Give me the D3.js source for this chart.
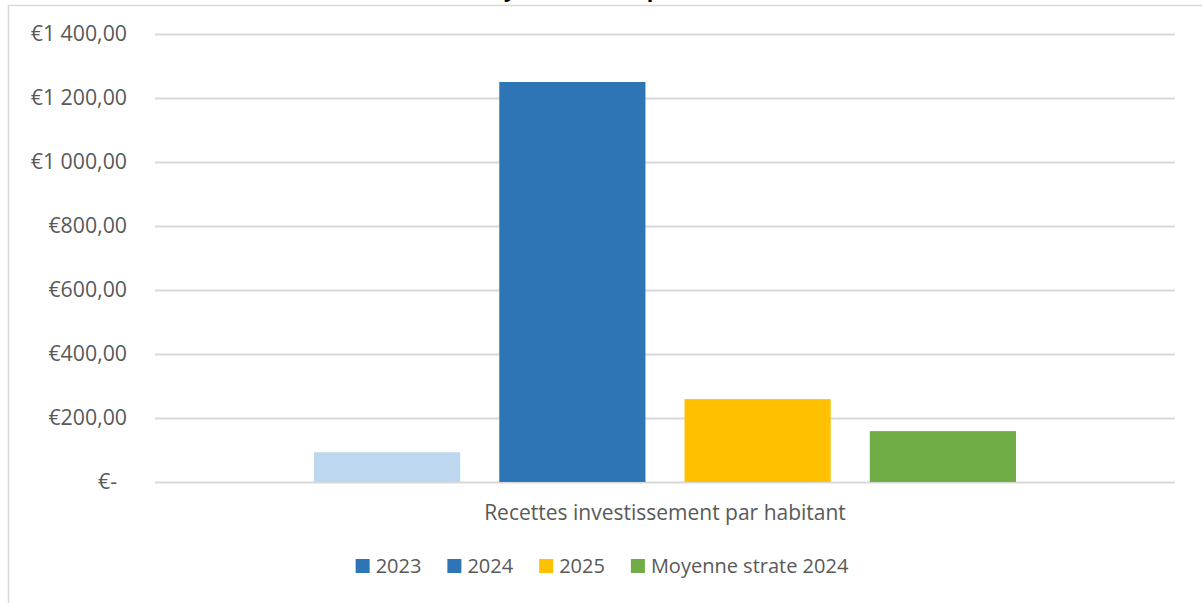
<!DOCTYPE html>
<html>
<head>
<meta charset="utf-8">
<script src="https://cdn.jsdelivr.net/npm/d3@7"></script>
<style>
  html, body { margin: 0; padding: 0; background: #fff; }
  svg { display: block; font-family: "Open Sans", "Liberation Sans", sans-serif; }
</style>
</head>
<body>
<svg id="chart" width="1202" height="603"></svg>
<script>
// Category, series and tick data
const categories = ["Recettes investissement par habitant"];
const seriesNames = ["2023", "2024", "2025", "Moyenne strate 2024"];
const seriesValues = [93, 1250, 259, 159];
const yTickValues = [0, 200, 400, 600, 800, 1000, 1200, 1400];
const titleText = "Recettes investissement : moyenne strate par habitant";

// Bar fills and legend swatch fills
const barFill = ["#BDD7EE", "#2E75B6", "#FFC000", "#70AD47"];
const swatchFill = ["#2E75B6", "#2E75B6", "#FFC000", "#70AD47"];

const svg = d3.select("#chart");
const W = 1202, H = 603;
const plot = { left: 155, right: 1175, top: 34, bottom: 482 };
const textColor = "#595959";
const gridColor = "#D9D9D9";

// Outer frame of the chart area
svg.append("rect")
  .attr("x", 8.5).attr("y", 5.5)
  .attr("width", W + 20).attr("height", H + 20)
  .attr("fill", "none").attr("stroke", gridColor).attr("stroke-width", 1.5);

// Title (sits above the frame, mostly outside the visible area)
const title = svg.append("text")
  .attr("x", 0).attr("y", -3)
  .attr("font-weight", "bold")
  .attr("font-size", 19)
  .attr("fill", "#000")
  .text(titleText);
{
  const node = title.node();
  const iy = titleText.indexOf("y");
  const ip = titleText.indexOf(" par") + 1;
  const ey = node.getExtentOfChar(iy);
  const ep = node.getExtentOfChar(ip);
  const yc = ey.x + ey.width * 0.4;
  const pc = ep.x + ep.width * 0.15;
  const fs = 19 * 140 / (pc - yc);
  title.attr("font-size", fs);
  const ey2 = node.getExtentOfChar(iy);
  title.attr("x", 509 - (ey2.x + ey2.width * 0.4));
}

// Scales
const y = d3.scaleLinear().domain([0, 1400]).range([plot.bottom, plot.top]);
const x0 = d3.scaleBand().domain(categories)
  .range([plot.left, plot.right]).paddingInner(0).paddingOuter(0.2265);
const x1 = d3.scaleBand().domain(seriesNames)
  .range([0, x0.bandwidth()]).paddingInner(0.211).paddingOuter(0);

// Currency format: €1 400,00 ; zero shown as €-
const fr = d3.formatLocale({ decimal: ",", thousands: " ", grouping: [3], currency: ["€", ""] });
const money = fr.format("$,.2f");
const tickFmt = v => v === 0 ? "€-" : money(v);

// Gridlines
svg.append("g")
  .selectAll("line")
  .data(yTickValues)
  .join("line")
  .attr("x1", plot.left).attr("x2", plot.right)
  .attr("y1", d => Math.round(y(d)) + 0.5).attr("y2", d => Math.round(y(d)) + 0.5)
  .attr("stroke", gridColor).attr("stroke-width", 2);

// Y axis labels
const yAxis = d3.axisLeft(y).tickValues(yTickValues).tickFormat(tickFmt).tickSize(0).tickPadding(0);
const gy = svg.append("g").attr("transform", "translate(127,0)").call(yAxis);
gy.select(".domain").remove();
gy.selectAll("text")
  .attr("fill", textColor)
  .attr("font-size", 21.3)
  .attr("font-family", "\"Open Sans\", sans-serif")
  .attr("dx", d => d === 0 ? -10 : 0);

// Bars
const group = svg.append("g").attr("transform", `translate(${x0(categories[0])},0)`);
group.selectAll("rect")
  .data(seriesValues.map((v, i) => ({ name: seriesNames[i], value: v, i })))
  .join("rect")
  .attr("x", d => x1(d.name))
  .attr("width", x1.bandwidth())
  .attr("y", d => y(d.value))
  .attr("height", d => y(0) - y(d.value))
  .attr("fill", d => barFill[d.i]);

// Category axis label
const xAxis = d3.axisBottom(x0).tickSize(0).tickPadding(0);
const gx = svg.append("g").attr("transform", `translate(0,${plot.bottom})`).call(xAxis);
gx.select(".domain").remove();
gx.selectAll("text")
  .attr("fill", textColor)
  .attr("font-size", 21)
  .attr("font-family", "\"Open Sans\", sans-serif")
  .attr("dy", 0)
  .attr("y", 38);

// Legend
const legend = svg.append("g");
const items = legend.selectAll("g")
  .data(seriesNames)
  .join("g");
items.append("rect")
  .attr("width", 14).attr("height", 14)
  .attr("y", 559)
  .attr("fill", (d, i) => swatchFill[i]);
items.append("text")
  .attr("x", 20).attr("y", 573)
  .attr("font-size", 20)
  .attr("fill", textColor)
  .text(d => d);
let cursor = 0;
const offsets = [];
items.each(function () {
  offsets.push(cursor);
  const w = d3.select(this).select("text").node().getComputedTextLength();
  cursor += 20 + w + 26;
});
const total = cursor - 26;
const start = 602 - total / 2;
items.attr("transform", (d, i) => `translate(${start + offsets[i]},0)`);
</script>
</body>
</html>
